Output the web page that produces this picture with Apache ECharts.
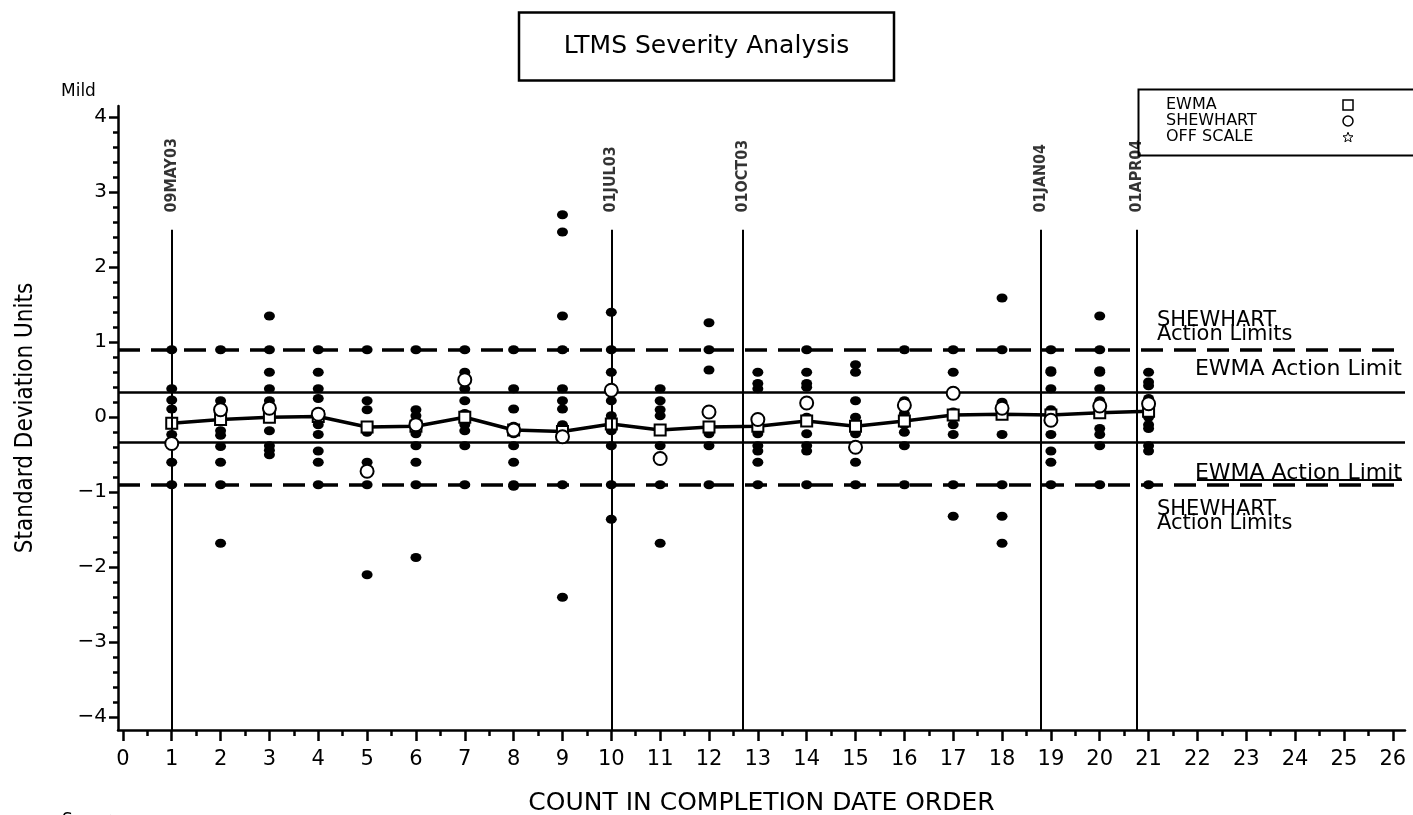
<!DOCTYPE html>
<html><head><meta charset="utf-8">
<script src="https://cdn.jsdelivr.net/npm/echarts@6/dist/echarts.min.js"></script>
<style>html,body{margin:0;padding:0;background:#fff}#c{width:1413px;height:815px}</style>
</head><body><div id="c"></div>
<script>
// ---- data ----
const runs = [1,2,3,4,5,6,7,8,9,10,11,12,13,14,15,16,17,18,19,20,21];
const ewma = [-0.08,-0.03,0.0,0.01,-0.13,-0.12,0.0,-0.17,-0.19,-0.09,-0.17,-0.13,-0.12,-0.05,-0.12,-0.05,0.03,0.04,0.03,0.06,0.08];
const shewhart = [-0.35,0.1,0.12,0.04,-0.72,-0.1,0.5,-0.17,-0.26,0.36,-0.55,0.07,-0.03,0.19,-0.4,0.16,0.32,0.12,-0.04,0.15,0.18];
const results = [
  [0.9,0.38,0.23,0.11,-0.08,-0.23,-0.6,-0.9],
  [0.9,0.22,0.14,0.05,-0.04,-0.18,-0.24,-0.39,-0.6,-0.9,-1.68],
  [1.35,0.9,0.6,0.38,0.22,0.0,-0.18,-0.38,-0.44,-0.5],
  [0.9,0.6,0.38,0.25,0.05,-0.1,-0.23,-0.45,-0.6,-0.9],
  [0.9,0.22,0.1,-0.12,-0.2,-0.6,-0.9,-2.1],
  [0.9,0.1,0.02,-0.05,-0.12,-0.22,-0.38,-0.6,-0.9,-1.87],
  [0.9,0.6,0.38,0.22,0.05,-0.1,-0.18,-0.38,-0.9],
  [0.9,0.38,0.11,-0.12,-0.18,-0.22,-0.38,-0.6,-0.9,-0.92],
  [2.7,2.47,1.35,0.9,0.38,0.22,0.11,-0.1,-0.15,-0.9,-2.4],
  [1.4,0.9,0.6,0.36,0.22,0.02,-0.05,-0.18,-0.38,-0.9,-1.36],
  [0.38,0.22,0.1,0.02,-0.17,-0.38,-0.58,-0.9,-1.68],
  [1.26,0.9,0.63,0.1,0.05,-0.13,-0.22,-0.38,-0.9],
  [0.6,0.45,0.38,0.0,-0.05,-0.12,-0.22,-0.38,-0.45,-0.6,-0.9],
  [0.9,0.6,0.45,0.4,0.2,0.17,0.0,-0.22,-0.38,-0.45,-0.9],
  [0.7,0.6,0.22,0.0,-0.1,-0.22,-0.4,-0.6,-0.9],
  [0.9,0.22,0.05,-0.1,-0.2,-0.38,-0.9],
  [0.9,0.6,0.35,0.07,0.0,-0.1,-0.23,-0.9,-1.32],
  [1.59,0.9,0.2,0.12,0.05,-0.23,-0.9,-1.32,-1.68],
  [0.9,0.62,0.6,0.38,0.1,0.02,-0.05,-0.23,-0.45,-0.6,-0.9],
  [1.35,0.9,0.62,0.6,0.38,0.22,0.08,-0.15,-0.23,-0.38,-0.9],
  [0.6,0.47,0.42,0.25,0.2,0.15,0.08,0.0,-0.1,-0.15,-0.38,-0.45,-0.9]
];
const dateLabels = ['09MAY03','01JUL03','01OCT03','01JAN04','01APR04'];
const datePositions = [1,10,12.7,18.8,20.75];
const dateLineTop = 2.5;
const dateLabelBase = 2.73;
const shewhartLimit = 0.9;
const ewmaLimit = 0.33;
const xTicks = [0,1,2,3,4,5,6,7,8,9,10,11,12,13,14,15,16,17,18,19,20,21,22,23,24,25,26];
const yTicks = [-4,-3,-2,-1,0,1,2,3,4];

// ---- chart ----
const FONT = 'DejaVu Sans';
const FONTC = 'DejaVu Sans Condensed';
const xMin = -0.1, xMax = 26.25, yMin = -4.17, yMax = 4.15;
const xMinor = xTicks.slice(0,-1).map(v => v + 0.5);
const yMinor = [];
for (let i = 0; i < yTicks.length - 1; i++) for (let k = 1; k < 5; k++) yMinor.push(+(yTicks[i] + k * 0.2).toFixed(2));
const dots = results.flatMap((vals, i) => vals.map(v => [runs[i], v]));
const starPath = 'path://M12,1 L14.9,8.6 L23,9 L16.7,14.2 L18.8,22 L12,17.6 L5.2,22 L7.3,14.2 L1,9 L9.1,8.6 Z';
const minus = v => String(v).replace('-', '\u2212');

const chart = echarts.init(document.getElementById('c'), null, {renderer: 'canvas'});
chart.setOption({
  backgroundColor: '#fff',
  animation: false,
  textStyle: {fontFamily: FONT, color: '#000'},
  title: {
    text: 'LTMS Severity Analysis', left: 'center', top: 12,
    padding: [22, 45], borderColor: '#000', borderWidth: 2.5,
    textStyle: {fontFamily: FONT, fontWeight: 'normal', fontSize: 25, color: '#000'}
  },
  legend: {
    orient: 'vertical', left: 1166, top: 97, padding: 0, itemGap: 0, itemWidth: 10, itemHeight: 10,
    align: 'right', selectedMode: false,
    formatter: n => '{a|' + n + '}',
    textStyle: {fontFamily: FONT, fontSize: 16, lineHeight: 16, color: '#000',
      rich: {a: {width: 172, align: 'left', fontFamily: FONT, fontSize: 16, lineHeight: 16, color: '#000'}}},
    data: [
      {name: 'EWMA', icon: 'rect', itemStyle: {color: '#fff', borderColor: '#000', borderWidth: 1.5, opacity: 1}, lineStyle: {opacity: 0}},
      {name: 'SHEWHART', icon: 'circle', itemStyle: {color: '#fff', borderColor: '#000', borderWidth: 1.5, opacity: 1}},
      {name: 'OFF SCALE', icon: starPath, itemStyle: {color: '#fff', borderColor: '#000', borderWidth: 1, opacity: 1}}
    ]
  },
  grid: {left: 118, right: 8, top: 106, bottom: 85, containLabel: false, outerBoundsMode: 'none'},
  xAxis: [{
    type: 'value', min: xMin, max: xMax, position: 'bottom',
    name: 'COUNT IN COMPLETION DATE ORDER', nameLocation: 'middle', nameGap: 61,
    nameTextStyle: {fontFamily: FONT, fontSize: 25, color: '#000'},
    axisLine: {show: true, onZero: false, lineStyle: {color: '#000', width: 2.5}},
    axisTick: {show: true, customValues: xTicks, length: 11, lineStyle: {color: '#000', width: 2.5}},
    axisLabel: {customValues: xTicks, fontSize: 21, margin: 19, color: '#000', fontFamily: FONT},
    splitLine: {show: false}
  }, {
    type: 'value', min: xMin, max: xMax, position: 'bottom',
    axisLine: {show: false, onZero: false},
    axisTick: {show: true, customValues: xMinor, length: 6, lineStyle: {color: '#000', width: 2.5}},
    axisLabel: {show: false}, splitLine: {show: false}
  }],
  yAxis: [{
    type: 'value', min: yMin, max: yMax, position: 'left',
    name: 'Standard Deviation Units', nameLocation: 'middle', nameGap: 80, nameRotate: 90,
    nameTextStyle: {fontFamily: FONTC, fontSize: 24, color: '#000'},
    axisLine: {show: true, onZero: false, lineStyle: {color: '#000', width: 2.5}},
    axisTick: {show: true, customValues: yTicks, length: 9, lineStyle: {color: '#000', width: 2.5}},
    axisLabel: {customValues: yTicks, fontSize: 20, margin: 11, color: '#000', fontFamily: FONT, formatter: minus},
    splitLine: {show: false}
  }, {
    type: 'value', min: yMin, max: yMax, position: 'left', offset: 0,
    axisLine: {show: false, onZero: false},
    axisTick: {show: true, customValues: yMinor, length: 5, lineStyle: {color: '#000', width: 2.5}},
    axisLabel: {show: false}, splitLine: {show: false}
  }],
  series: [
    {
      name: 'Limits', type: 'line', data: [], silent: true,
      markLine: {
        silent: true, symbol: 'none', label: {show: false},
        data: [
          {yAxis: shewhartLimit, lineStyle: {type: [22, 11], width: 3.5, color: '#000'}},
          {yAxis: -shewhartLimit, lineStyle: {type: [22, 11], width: 3.5, color: '#000'}},
          {yAxis: ewmaLimit, lineStyle: {type: 'solid', width: 2.5, color: '#000'}},
          {yAxis: -ewmaLimit, lineStyle: {type: 'solid', width: 2.5, color: '#000'}}
        ]
      }
    },
    {
      name: 'Dates', type: 'scatter', symbolSize: 0, silent: true,
      data: datePositions.map((x, i) => ({value: [x, dateLabelBase], name: dateLabels[i]})),
      label: {
        show: true, formatter: p => p.name, position: 'top', distance: 0, rotate: 90,
        align: 'left', verticalAlign: 'middle',
        fontFamily: FONTC, fontSize: 16, fontWeight: 'bold', color: '#000'
      },
      markLine: {
        silent: true, symbol: 'none', label: {show: false},
        lineStyle: {type: 'solid', color: '#000', width: 2},
        data: datePositions.map(x => [{coord: [x, dateLineTop]}, {coord: [x, yMin]}])
      }
    },
    {
      name: 'Results', type: 'scatter', data: dots, symbol: 'circle', symbolSize: [11, 9],
      itemStyle: {color: '#000', opacity: 1}, z: 3, silent: true
    },
    {
      name: 'EWMA', type: 'line', data: runs.map((r, i) => [r, ewma[i]]),
      symbol: 'rect', symbolSize: 11, showAllSymbol: true,
      lineStyle: {color: '#000', width: 3.5},
      itemStyle: {color: '#fff', borderColor: '#000', borderWidth: 2, opacity: 1}, z: 4, silent: true
    },
    {
      name: 'SHEWHART', type: 'scatter', data: runs.map((r, i) => [r, shewhart[i]]),
      symbol: 'circle', symbolSize: 13,
      itemStyle: {color: '#fff', borderColor: '#000', borderWidth: 2, opacity: 1}, z: 5, silent: true
    },
    {
      name: 'OFF SCALE', type: 'scatter', data: [], symbol: starPath, symbolSize: 12,
      itemStyle: {color: '#fff', borderColor: '#000', borderWidth: 1, opacity: 1}
    }
  ],
  graphic: [
    {type: 'rect', left: 1136, top: 87, shape: {width: 300, height: 66}, style: {fill: 'none', stroke: '#000', lineWidth: 2}, z: -1},
    {type: 'text', left: 61, top: 83, style: {text: 'Mild', fontFamily: FONT, fontSize: 17, fill: '#000'}},
    {type: 'text', left: 62, top: 812, style: {text: 'Severe', fontFamily: FONT, fontSize: 17, fill: '#000'}},
    {type: 'text', left: 1157, top: 310, style: {text: 'SHEWHART\nAction Limits', fontFamily: FONT, fontSize: 21, lineHeight: 14, fill: '#000'}},
    {type: 'text', right: 11, top: 358, style: {text: 'EWMA Action Limit', fontFamily: FONT, fontSize: 22, fill: '#000'}},
    {type: 'text', right: 11, top: 462, style: {text: 'EWMA Action Limit', fontFamily: FONT, fontSize: 22, fill: '#000'}},
    {type: 'line', shape: {x1: 1197, y1: 480, x2: 1402, y2: 480}, style: {stroke: '#000', lineWidth: 2}},
    {type: 'text', left: 1157, top: 499, style: {text: 'SHEWHART\nAction Limits', fontFamily: FONT, fontSize: 21, lineHeight: 14, fill: '#000'}}
  ]
});
</script>
</body></html>
